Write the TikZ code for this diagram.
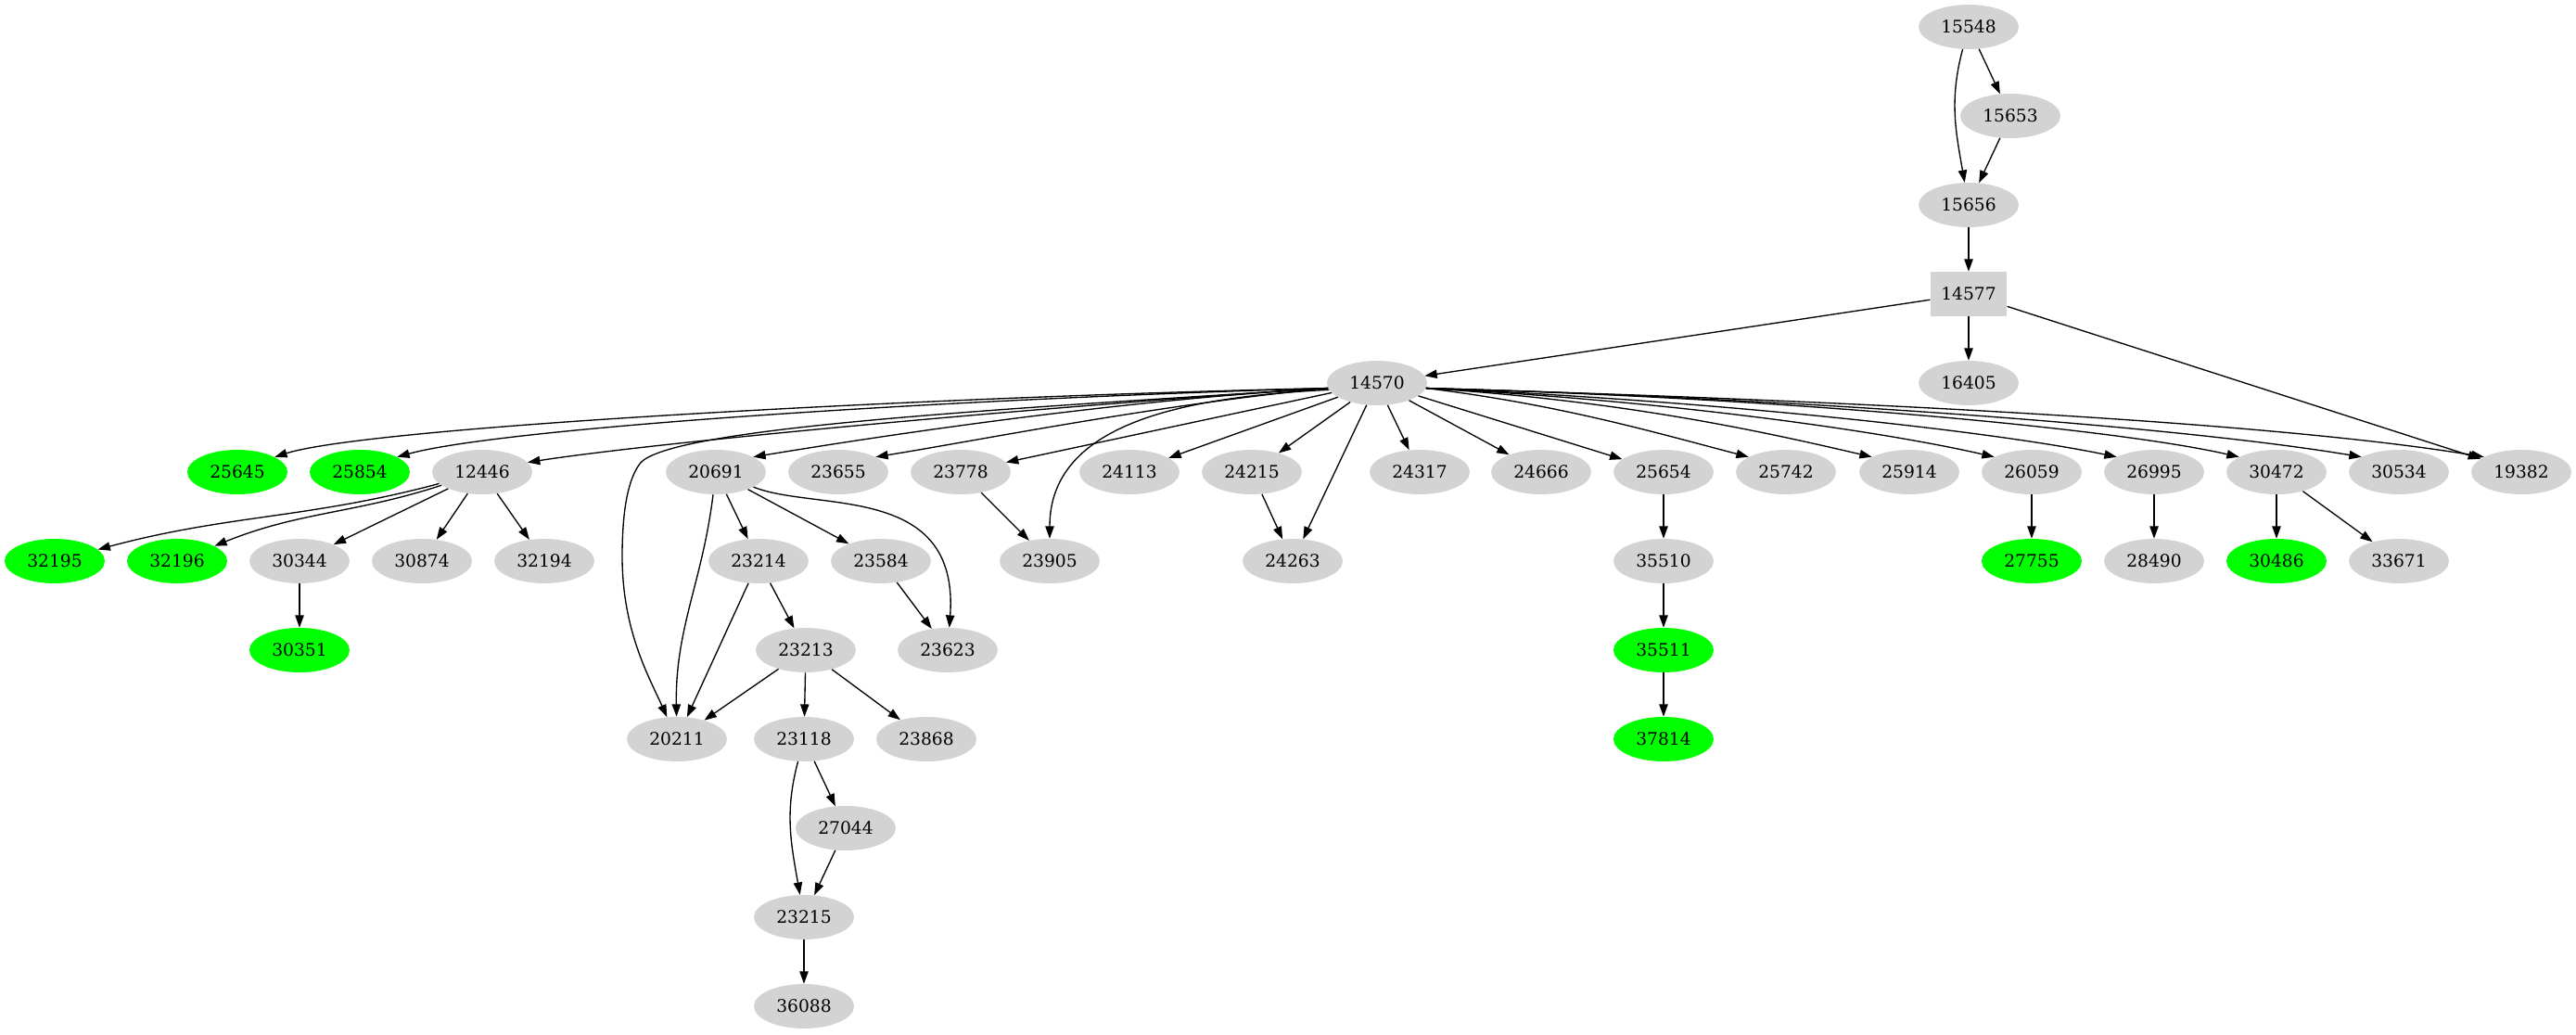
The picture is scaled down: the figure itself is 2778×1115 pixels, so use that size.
\documentclass[tikz,border=0pt]{standalone}
\usepackage{fontspec}
\setmainfont{DejaVu Serif}
\usetikzlibrary{shapes.geometric,arrows.meta}
\definecolor{gvgray}{HTML}{D3D3D3}
\definecolor{gvgreen}{HTML}{00FF00}
\tikzset{
  gnode/.style={ellipse, fill=gvgray, minimum width=81pt, minimum height=36pt, inner sep=0pt, font=\fontsize{14pt}{16pt}\selectfont},
  grnode/.style={gnode, fill=gvgreen},
  boxnode/.style={rectangle, fill=gvgray, minimum width=62pt, minimum height=36pt, inner sep=0pt, font=\fontsize{14pt}{16pt}\selectfont},
  gvedge/.style={draw, line width=1pt, -{Triangle[length=10pt,width=7pt]}}
}
\begin{document}
\begin{tikzpicture}[x=0.75pt,y=-0.75pt]
\fill[white] (0,0) rectangle (2778,1115);
\useasboundingbox (0,0) rectangle (2778,1115);
% rank 0-4
\node[gnode] (n15548) at (2123,29) {15548};
\node[gnode] (n15653) at (2168,125) {15653};
\node[gnode] (n15656) at (2123,221) {15656};
\node[boxnode] (n14577) at (2123,317) {14577};
\node[gnode] (n14570) at (1485,413) {14570};
\node[gnode] (n16405) at (2123,413) {16405};
% rank 5
\node[grnode] (n25645) at (256,509) {25645};
\node[grnode] (n25854) at (388,509) {25854};
\node[gnode] (n12446) at (520,509) {12446};
\node[gnode] (n20691) at (772,509) {20691};
\node[gnode] (n23655) at (904,509) {23655};
\node[gnode] (n23778) at (1036,509) {23778};
\node[gnode] (n24113) at (1218,509) {24113};
\node[gnode] (n24215) at (1350,509) {24215};
\node[gnode] (n24317) at (1531,509) {24317};
\node[gnode] (n24666) at (1662,509) {24666};
\node[gnode] (n25654) at (1794,509) {25654};
\node[gnode] (n25742) at (1926,509) {25742};
\node[gnode] (n25914) at (2059,509) {25914};
\node[gnode] (n26059) at (2191,509) {26059};
\node[gnode] (n26995) at (2323,509) {26995};
\node[gnode] (n30472) at (2455,509) {30472};
\node[gnode] (n30534) at (2587,509) {30534};
\node[gnode] (n19382) at (2719,509) {19382};
% rank 6
\node[grnode] (n32195) at (59,605) {32195};
\node[grnode] (n32196) at (191,605) {32196};
\node[gnode] (n30344) at (323,605) {30344};
\node[gnode] (n30874) at (455,605) {30874};
\node[gnode] (n32194) at (587,605) {32194};
\node[gnode] (n23214) at (818,605) {23214};
\node[gnode] (n23584) at (950,605) {23584};
\node[gnode] (n23905) at (1132,605) {23905};
\node[gnode] (n24263) at (1394,605) {24263};
\node[gnode] (n35510) at (1794,605) {35510};
\node[grnode] (n27755) at (2191,605) {27755};
\node[gnode] (n28490) at (2323,605) {28490};
\node[grnode] (n30486) at (2455,605) {30486};
\node[gnode] (n33671) at (2587,605) {33671};
% rank 7
\node[grnode] (n30351) at (323,701) {30351};
\node[gnode] (n23213) at (869,701) {23213};
\node[gnode] (n23623) at (1022,701) {23623};
\node[grnode] (n35511) at (1794,701) {35511};
% rank 8
\node[gnode] (n20211) at (730,797) {20211};
\node[gnode] (n23118) at (867,797) {23118};
\node[gnode] (n23868) at (999,797) {23868};
\node[grnode] (n37814) at (1794,797) {37814};
% rank 9-11
\node[gnode] (n27044) at (912,893) {27044};
\node[gnode] (n23215) at (867,989) {23215};
\node[gnode] (n36088) at (867,1085) {36088};
% top edges
\draw[gvedge] (n15548) -- (n15653);
\draw[gvedge] (n15548) to[out=-105,in=100] (n15656);
\draw[gvedge] (n15653) -- (n15656);
\draw[gvedge] (n15656) -- (n14577);
\draw[gvedge] (n14577) -- (n14570);
\draw[gvedge] (n14577) -- (n16405);
\draw[gvedge] (n14577) -- (n19382);
% 14570 left side
\draw[gvedge] (n14570.186) .. controls (1000,428) and (400,460) .. (n25645.22);
\draw[gvedge] (n14570.186) .. controls (1000,431) and (540,462) .. (n25854.22);
\draw[gvedge] (n14570.186) .. controls (1100,440) and (700,478) .. (n12446.12);
\draw[gvedge] (n14570.186) .. controls (1100,440) and (720,460) .. (690,500)
   .. controls (675,520) and (671,560) .. (671,600)
   .. controls (671,680) and (700,730) .. (n20211);
\draw[gvedge] (n14570.186) .. controls (1200,432) and (950,470) .. (n20691.22);
\draw[gvedge] (n14570.186) .. controls (1250,436) and (1060,474) .. (n23655.22);
\draw[gvedge] (n14570) -- (n23778);
\draw[gvedge] (n14570.188) .. controls (1280,428) and (1132,455) .. (n23905);
\draw[gvedge] (n14570) -- (n24113);
\draw[gvedge] (n14570) -- (n24215);
\draw[gvedge] (n14570) -- (n24263);
\draw[gvedge] (n14570) -- (n24317);
\draw[gvedge] (n14570) -- (n24666);
\draw[gvedge] (n14570) -- (n25654);
% 14570 right side
\draw[gvedge] (n14570.-6) .. controls (1680,436) and (1780,465) .. (n25742.158);
\draw[gvedge] (n14570.-6) .. controls (1750,432) and (1900,465) .. (n25914.158);
\draw[gvedge] (n14570.-6) .. controls (1800,432) and (2030,465) .. (n26059.158);
\draw[gvedge] (n14570.-6) .. controls (1850,432) and (2150,465) .. (n26995.158);
\draw[gvedge] (n14570.-6) .. controls (1900,428) and (2270,460) .. (n30472.158);
\draw[gvedge] (n14570.-6) .. controls (1950,430) and (2350,460) .. (n30534.158);
\draw[gvedge] (n14570.-6) .. controls (2000,432) and (2450,455) .. (n19382.158);
% 12446
\draw[gvedge] (n12446) to[out=195,in=15] (n32195);
\draw[gvedge] (n12446) to[out=198,in=22] (n32196);
\draw[gvedge] (n12446) -- (n30344);
\draw[gvedge] (n12446) -- (n30874);
\draw[gvedge] (n12446) -- (n32194);
\draw[gvedge] (n30344) -- (n30351);
% 20691 group
\draw[gvedge] (n20691) to[out=-97,in=91] (n20211);
\draw[gvedge] (n20691) -- (n23214);
\draw[gvedge] (n20691) -- (n23584);
\draw[gvedge] (n20691) .. controls (880,552) and (1035,520) .. (n23623);
\draw[gvedge] (n23214) -- (n20211);
\draw[gvedge] (n23214) -- (n23213);
\draw[gvedge] (n23584) -- (n23623);
\draw[gvedge] (n23778) -- (n23905);
\draw[gvedge] (n24215) -- (n24263);
\draw[gvedge] (n23213) -- (n20211);
\draw[gvedge] (n23213) -- (n23118);
\draw[gvedge] (n23213) -- (n23868);
\draw[gvedge] (n23118) to[out=-105,in=100] (n23215);
\draw[gvedge] (n23118) -- (n27044);
\draw[gvedge] (n27044) -- (n23215);
\draw[gvedge] (n23215) -- (n36088);
% right chains
\draw[gvedge] (n25654) -- (n35510);
\draw[gvedge] (n35510) -- (n35511);
\draw[gvedge] (n35511) -- (n37814);
\draw[gvedge] (n26059) -- (n27755);
\draw[gvedge] (n26995) -- (n28490);
\draw[gvedge] (n30472) -- (n30486);
\draw[gvedge] (n30472) -- (n33671);
\end{tikzpicture}
\end{document}
